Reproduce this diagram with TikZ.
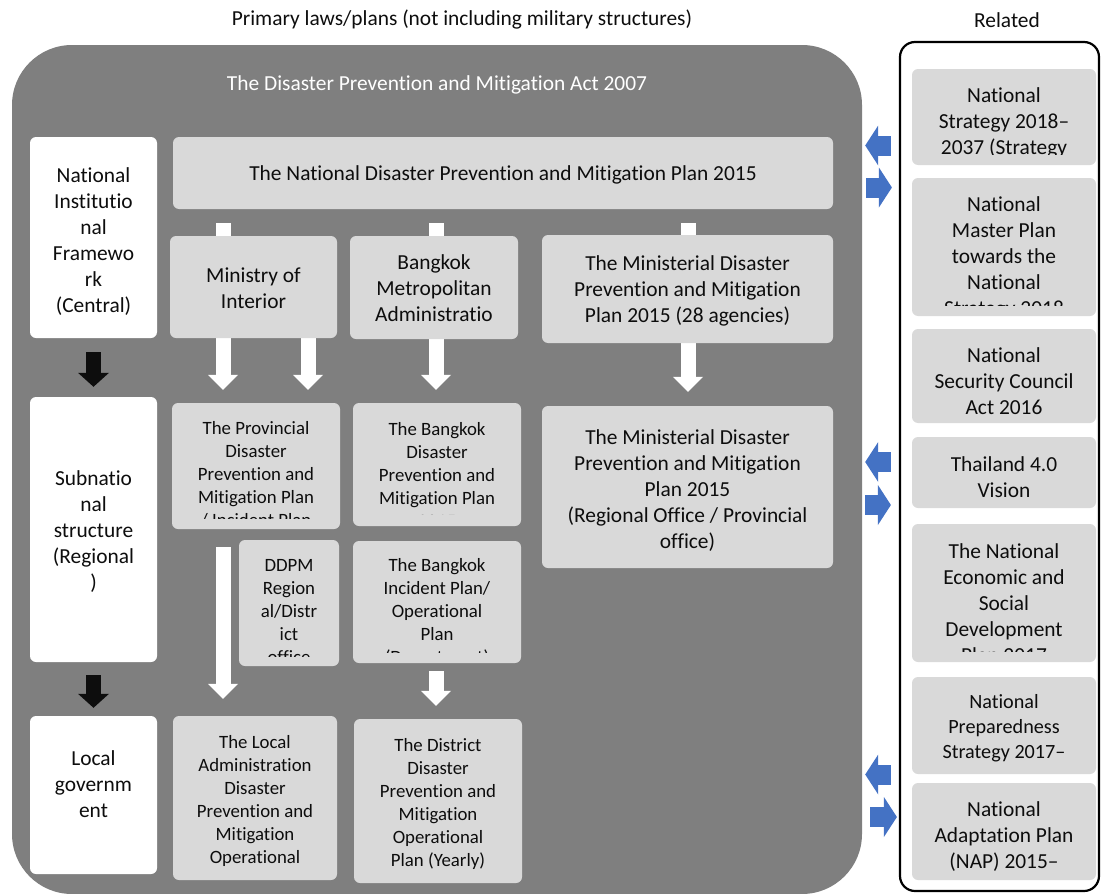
\documentclass[tikz,border=0pt]{standalone}
\usepackage{fontspec}
\setmainfont{Carlito}[Ligatures={NoCommon,NoRare,NoContextual}]
\usetikzlibrary{arrows.meta}
\definecolor{maingray}{HTML}{7F7F7F}
\definecolor{lgray}{HTML}{D9D9D9}
\definecolor{bblue}{HTML}{4472C4}
\definecolor{tblack}{HTML}{0D0D0D}
\pgfdeclarelayer{back}
\pgfdeclarelayer{mid}
\pgfsetlayers{back,mid,main}
\tikzset{
  lbox/.style={rectangle, fill=lgray, rounded corners=6pt, inner sep=0pt},
  wbox/.style={rectangle, fill=white, rounded corners=6pt, inner sep=0pt},
  tx/.style={align=center, inner sep=0pt, anchor=north, text=tblack},
  fbig/.style={font=\fontsize{21.4}{26}\selectfont},
  fsml/.style={font=\fontsize{18.8}{23}\selectfont},
  fmid/.style={font=\fontsize{20.2}{25}\selectfont},
  warr/.style={draw=white, line width=15pt, -{Triangle[width=30pt,length=15pt,line width=0pt]}},
  wstub/.style={draw=white, line width=15pt},
  karr/.style={draw=tblack, line width=15pt, -{Triangle[width=31pt,length=14pt,line width=0pt]}},
  barr/.style={draw=bblue, line width=20pt, -{Triangle[width=40pt,length=13pt,line width=0pt]}},
}
\begin{document}
\begin{tikzpicture}[x=1pt,y=-1pt]
\useasboundingbox (0,0) rectangle (1101,894);

% titles
\node[fbig, text=tblack, inner sep=0pt] (ttl) at (462,20) {Primary laws/plans (not including military structures)};
\node[fbig, text=tblack, inner sep=0pt] (rtl) at (1007,20) {Related};

% main containers
\begin{pgfonlayer}{back}
\node[rectangle, fill=maingray, rounded corners=60pt, minimum width=850pt, minimum height=849pt, inner sep=0pt] (main) at (437,469.5) {};
\node[rectangle, draw=black, line width=2.2pt, rounded corners=15pt, minimum width=199pt, minimum height=849pt, inner sep=0pt] (rel) at (999.5,466.5) {};
\end{pgfonlayer}
\node[fbig, text=white, inner sep=0pt] (act) at (437,85) {The Disaster Prevention and Mitigation Act 2007};

% left column
\node[wbox, minimum width=127pt, minimum height=201pt] (l1) at (93.5,237.5) {};
\node[wbox, minimum width=127pt, minimum height=265pt] (l2) at (93.5,529.5) {};
\node[wbox, minimum width=127pt, minimum height=158pt] (l3) at (93.5,795) {};
\node[tx, fbig] (l1t) at (93.5,164.5) {\strut National\\Institutio\\nal\\Framewo\\rk\\(Central)};
\node[tx, fbig] (l2t) at (93.5,467) {\strut Subnatio\\nal\\structure\\(Regional\\)};
\node[tx, fbig] (l3t) at (93.5,747) {\strut Local\\governm\\ent};

% middle boxes
\node[lbox, minimum width=660pt, minimum height=72pt] (top) at (503,173) {};
\node[tx, fbig] (topt) at (503,162.5) {\strut The National Disaster Prevention and Mitigation Plan 2015};
\node[lbox, minimum width=167pt, minimum height=102pt] (moi) at (253.5,287) {};
\node[tx, fbig] (moit) at (253.5,264.5) {\strut Ministry of\\Interior};
\node[lbox, minimum width=168pt, minimum height=103pt] (bma) at (434,287.5) {};
\node[tx, fbig] (bmat) at (434,251.5) {\strut Bangkok\\Metropolitan\\Administratio};
\node[lbox, minimum width=291pt, minimum height=108pt] (min1) at (687.5,289) {};
\node[tx, fbig] (min1t) at (687.5,252.5) {\strut The Ministerial Disaster\\Prevention and Mitigation\\Plan 2015 (28 agencies)};

\node[lbox, minimum width=168pt, minimum height=126pt] (prov) at (256,466) {};
\begin{scope}
\clip (prov.north west) rectangle ([yshift=11pt]prov.south east);
\node[tx, fsml] (provt) at (256,418) {\strut The Provincial\\Disaster\\Prevention and\\Mitigation Plan\\/ Incident Plan};
\end{scope}
\node[lbox, minimum width=168pt, minimum height=123pt] (bdp) at (437,464.5) {};
\begin{scope}
\clip (bdp.north west) rectangle ([yshift=12pt]bdp.south east);
\node[tx, fsml] (bdpt) at (437,419) {\strut The Bangkok\\Disaster\\Prevention and\\Mitigation Plan\\2015};
\end{scope}
\node[lbox, minimum width=291pt, minimum height=162pt] (min2) at (687.5,487) {};
\node[tx, fbig] (min2t) at (687.5,426.5) {\strut The Ministerial Disaster\\Prevention and Mitigation\\Plan 2015\\(Regional Office / Provincial\\office)};
\node[lbox, minimum width=100pt, minimum height=126pt] (ddpm) at (289,603) {};
\begin{scope}
\clip (ddpm.north west) rectangle ([yshift=10pt]ddpm.south east);
\node[tx, fsml] (ddpmt) at (289,555) {\strut DDPM\\Region\\al/Distr\\ict\\office};
\end{scope}
\node[lbox, minimum width=168pt, minimum height=122pt] (binc) at (437,602) {};
\begin{scope}
\clip (binc.north west) rectangle ([yshift=11pt]binc.south east);
\node[tx, fsml] (binct) at (437,555) {\strut The Bangkok\\Incident Plan/\\Operational\\Plan\\(Department)};
\end{scope}
\node[lbox, minimum width=164pt, minimum height=164pt] (local) at (255,798) {};
\node[tx, fsml] (localt) at (255,732) {\strut The Local\\Administration\\Disaster\\Prevention and\\Mitigation\\Operational};
\node[lbox, minimum width=168pt, minimum height=164pt] (dist) at (438,801) {};
\node[tx, fsml] (distt) at (438,735) {\strut The District\\Disaster\\Prevention and\\Mitigation\\Operational\\Plan (Yearly)};

% right column
\node[lbox, minimum width=184pt, minimum height=96pt] (r1) at (1004,117) {};
\begin{scope}
\clip (r1.north west) rectangle ([yshift=11pt]r1.south east);
\node[tx, fbig] (r1t) at (1004,84) {\strut National\\Strategy 2018--\\2037 (Strategy};
\end{scope}
\node[lbox, minimum width=184pt, minimum height=138pt] (r2) at (1004,247) {};
\begin{scope}
\clip (r2.north west) rectangle ([yshift=11pt]r2.south east);
\node[tx, fbig] (r2t) at (1004,193) {\strut National\\Master Plan\\towards the\\National\\Strategy 2018};
\end{scope}
\node[lbox, minimum width=184pt, minimum height=94pt] (r3) at (1004,376) {};
\node[tx, fbig] (r3t) at (1004,344) {\strut National\\Security Council\\Act 2016};
\node[lbox, minimum width=184pt, minimum height=71pt] (r4) at (1004,472.5) {};
\node[tx, fbig] (r4t) at (1004,453) {\strut Thailand 4.0\\Vision};
\node[lbox, minimum width=184pt, minimum height=138pt] (r5) at (1004,593) {};
\begin{scope}
\clip (r5.north west) rectangle ([yshift=11pt]r5.south east);
\node[tx, fbig] (r5t) at (1004,540) {\strut The National\\Economic and\\Social\\Development\\Plan 2017};
\end{scope}
\node[lbox, minimum width=184pt, minimum height=97pt] (r6) at (1004,725.5) {};
\node[tx, fmid] (r6t) at (1004,691) {\strut National\\Preparedness\\Strategy 2017--};
\node[lbox, minimum width=184pt, minimum height=97pt] (r7) at (1004,831.5) {};
\node[tx, fbig] (r7t) at (1004,798) {\strut National\\Adaptation Plan\\(NAP) 2015--};

% guides
\coordinate (xa) at (223,0);
\coordinate (xb) at (308,0);
\coordinate (xc) at (436,0);
\coordinate (xd) at (688,0);
\coordinate (ya) at (0,145.5);
\coordinate (yb) at (0,187.5);
\coordinate (yc) at (0,462);
\coordinate (yd) at (0,505);
\coordinate (ye) at (0,774.5);
\coordinate (yf) at (0,817);

\begin{pgfonlayer}{mid}
% black arrows
\draw[karr, shorten <=14pt, shorten >=10pt] (l1.south) -- (l2.north);
\draw[karr, shorten <=13pt, shorten >=8pt] (l2.south) -- (l3.north);
% white stubs from the national plan
\draw[wstub, shorten <=14pt] (top.south -| xa) -- (moi.north -| xa);
\draw[wstub, shorten <=14pt] (top.south -| xc) -- (bma.north -| xc);
\draw[wstub, shorten <=14pt] (top.south -| xd) -- (min1.north -| xd);
% white arrows
\draw[warr, shorten >=13pt] (moi.south -| xa) -- (prov.north -| xa);
\draw[warr, shorten >=13pt] (moi.south -| xb) -- (prov.north -| xb);
\draw[warr, shorten >=13pt] (bma.south -| xc) -- (bdp.north -| xc);
\draw[warr, shorten >=14pt] (min1.south -| xd) -- (min2.north -| xd);
\draw[warr, shorten <=18pt, shorten >=17pt] (prov.south -| xa) -- (local.north -| xa);
\draw[warr, shorten <=8pt, shorten >=13pt] (binc.south -| xc) -- (dist.north -| xc);
% blue arrows
\draw[barr, shorten <=8pt, shorten >=3pt] (rel.west |- ya) -- (main.east |- ya);
\draw[barr, shorten <=4pt, shorten >=7pt] (main.east |- yb) -- (rel.west |- yb);
\draw[barr, shorten <=8pt, shorten >=3pt] (rel.west |- yc) -- (main.east |- yc);
\draw[barr, shorten <=3pt, shorten >=8pt] (main.east |- yd) -- (rel.west |- yd);
\draw[barr, shorten <=8pt, shorten >=3pt] (rel.west |- ye) -- (main.east |- ye);
\draw[barr, shorten <=8pt, shorten >=2pt] (main.east |- yf) -- (rel.west |- yf);
\end{pgfonlayer}
\end{tikzpicture}
\end{document}
